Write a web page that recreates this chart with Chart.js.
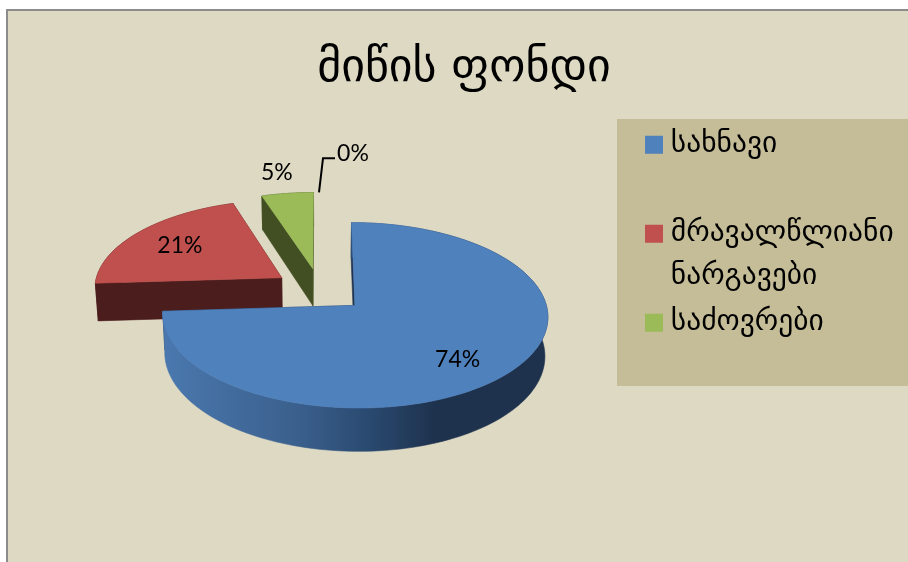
<!DOCTYPE html>
<html><head><meta charset="utf-8">
<style>html,body{margin:0;padding:0;background:#fff}canvas{display:block}</style>
<script src="https://cdn.jsdelivr.net/npm/chart.js@4/dist/chart.umd.min.js"></script>
</head><body><canvas id="c" width="908" height="562"></canvas>
<script>
const titleText = 'მიწის ფონდი';
const categories = ['სახნავი', ['მრავალწლიანი', 'ნარგავები'], 'საძოვრები', ''];
const shares = [74, 21, 5, 0];
const percentLabels = ['74%', '21%', '5%', '0%'];
const topColors = ['#4f81bd', '#c0504d', '#9bbb59', '#8064a2'];
const wallColors = ['#1e324e', '#4b1d1c', '#414f22', '#3a2d4d'];

const FONT_KA = '"DejaVu Sans", sans-serif';
const FONT_NUM = 'Lato, "Open Sans", sans-serif';
const PERSP = 0.105, SQUASH = 0.47, DEPTH = 38, BOTTOM_X = 0.987;
const LABEL_R = [0.8, 0.63, 1.07];
const LABEL_SHIFT = [[-18,1],[-10,-3],[-9,-16]];

function projector(arc){
  const R = arc.outerRadius, cx = arc.x, cy = arc.y;
  const top = (u, v) => { const f = 1/(1 - v*PERSP/R); return {x: cx + u*f, y: cy + SQUASH*v*f, f}; };
  const bottom = (u, v) => { const p = top(u, v); return {x: cx + (p.x-cx)*BOTTOM_X, y: p.y + DEPTH*p.f}; };
  return {top, bottom, R};
}
function slicePoints(arc){
  const e = arc.options.offset || 0, mid = (arc.startAngle+arc.endAngle)/2;
  const ox = Math.cos(mid)*e, oy = Math.sin(mid)*e;
  const rim = [], n = Math.max(2, Math.ceil((arc.endAngle-arc.startAngle)/0.03));
  for (let i=0;i<=n;i++){
    const a = arc.startAngle + (arc.endAngle-arc.startAngle)*i/n;
    rim.push([ox + Math.cos(a)*arc.outerRadius, oy + Math.sin(a)*arc.outerRadius]);
  }
  return {tip:[ox,oy], rim, mid};
}
function poly(ctx, pts, fill){
  ctx.beginPath();
  pts.forEach((p,i)=> i? ctx.lineTo(p.x,p.y) : ctx.moveTo(p.x,p.y));
  ctx.closePath(); ctx.fillStyle = fill; ctx.fill();
  ctx.strokeStyle = fill; ctx.lineWidth = 0.6; ctx.stroke();
}
const pie3d = {
  id:'pie3d',
  afterLayout(chart){
    const w = 640, h = 580;
    chart.chartArea = {left:0, top:0, right:w, bottom:h, width:w, height:h};
    const lg = chart.legend;
    lg.left = 649; lg.right = 908; lg.top = 127; lg.bottom = 560; lg.width = 259; lg.height = 433;
    lg.draw = function(){ this._draw(); };
    const t = chart.titleBlock;
    t.left = 20; t.right = 908; t.width = 888;
  },
  beforeDraw(chart){
    const c = chart.ctx, W = chart.width, H = chart.height;
    c.save();
    c.fillStyle = '#ffffff'; c.fillRect(0,0,W,H);
    c.fillStyle = '#ddd9c3'; c.fillRect(7,10,W,H);
    c.fillStyle = '#8c8c8c'; c.fillRect(6,9,W,2); c.fillRect(6,9,2,H);
    c.fillStyle = '#c4bd97'; c.fillRect(617,119,W-617,267);
    c.restore();
  },
  beforeDatasetDraw(chart){
    const ctx = chart.ctx, arcs = chart.getDatasetMeta(0).data;
    ctx.save();
    for (let i = arcs.length-1; i>=0; i--){
      const arc = arcs[i];
      if (arc.endAngle - arc.startAngle < 1e-4) continue;
      const P = projector(arc), s = slicePoints(arc);
      const tTop = P.top(...s.tip), tBot = P.bottom(...s.tip);
      const rTop = s.rim.map(p=>P.top(...p)), rBot = s.rim.map(p=>P.bottom(...p));
      const wall = i===0 ? (()=>{
        const g = ctx.createLinearGradient(165,0,435,0);
        g.addColorStop(0,'#4a78ae'); g.addColorStop(0.5,'#3a5f8c');
        g.addColorStop(0.75,'#2a4a70'); g.addColorStop(1,wallColors[0]);
        return g; })() : wallColors[i];
      poly(ctx,[tTop,rTop[0],rBot[0],tBot],wallColors[i]);
      poly(ctx,[tTop,rTop[rTop.length-1],rBot[rBot.length-1],tBot],wallColors[i]);
      poly(ctx,rTop.concat(rBot.slice().reverse()),wall);
      poly(ctx,[tTop].concat(rTop),arc.options.backgroundColor);
    }
    ctx.restore();
    return false;
  },
  afterDatasetsDraw(chart){
    const ctx = chart.ctx, arcs = chart.getDatasetMeta(0).data;
    ctx.save();
    ctx.font = '23px '+FONT_NUM; ctx.fillStyle = '#000';
    ctx.textAlign='center'; ctx.textBaseline='middle';
    arcs.forEach((arc,i)=>{
      const P = projector(arc), s = slicePoints(arc);
      if (i < LABEL_R.length){
        const r = arc.outerRadius*LABEL_R[i];
        const p = P.top(s.tip[0]+Math.cos(s.mid)*r, s.tip[1]+Math.sin(s.mid)*r);
        ctx.fillText(percentLabels[i], p.x+LABEL_SHIFT[i][0], p.y+LABEL_SHIFT[i][1]);
      } else {
        const p = P.top(s.tip[0], s.tip[1]-arc.outerRadius);
        ctx.beginPath(); ctx.moveTo(p.x-1,p.y); ctx.lineTo(p.x+3,p.y-34); ctx.lineTo(p.x+15,p.y-34);
        ctx.strokeStyle='#000'; ctx.lineWidth=2; ctx.stroke();
        ctx.fillText(percentLabels[i], p.x+33, p.y-39);
      }
    });
    ctx.restore();
  }
};
new Chart(document.getElementById('c'),{
  type:'pie',
  data:{labels:categories,datasets:[{data:shares,backgroundColor:topColors,offset:47,borderWidth:0}]},
  plugins:[pie3d],
  options:{
    responsive:false,animation:false,radius:188,rotation:0,
    layout:{padding:0},
    plugins:{
      tooltip:{enabled:false},
      title:{display:true,text:titleText,color:'#000',
        font:{family:FONT_KA,size:46,weight:'normal'},padding:{top:41,bottom:10}},
      legend:{display:true,position:'right',align:'start',
        labels:{boxWidth:4,boxHeight:4,padding:3,color:'#000',
          font:{family:FONT_KA,size:29.5,lineHeight:43/29.5},
          generateLabels(chart){
            return Chart.overrides.pie.plugins.legend.labels.generateLabels(chart).map(it=>{
              const lines = Array.isArray(it.text) ? it.text : [it.text,''];
              return Object.assign(it,{text:lines,strokeStyle:it.fillStyle,lineWidth:14});
            });
          },
          filter:item=>item.text[0]!==''}}
    }
  }
});
</script></body></html>
